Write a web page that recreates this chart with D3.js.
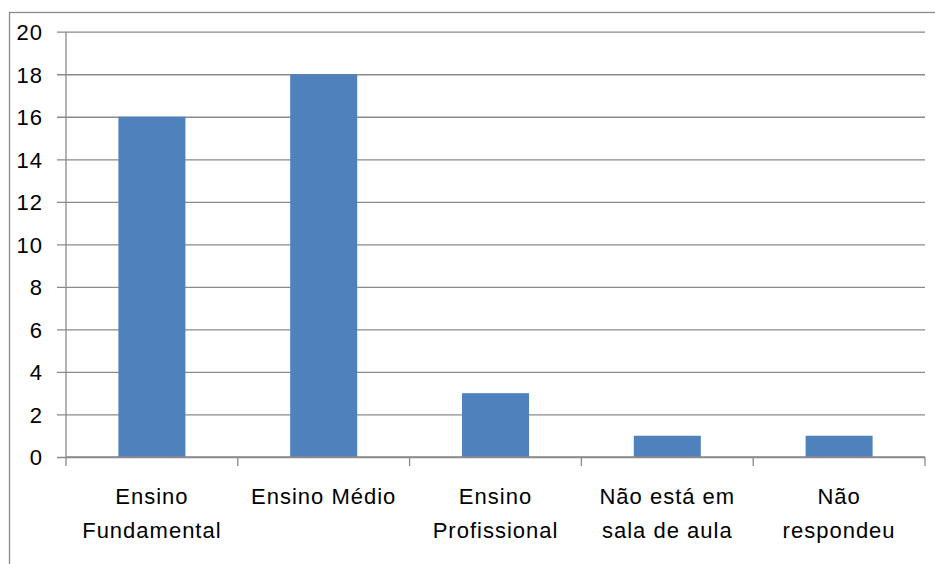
<!DOCTYPE html>
<html>
<head>
<meta charset="utf-8">
<script src="https://cdn.jsdelivr.net/npm/d3@7"></script>
<style>
  html, body { margin: 0; padding: 0; background: #fff; }
  svg { display: block; }
  text { font-family: "Liberation Sans", "DejaVu Sans", sans-serif; fill: #000; }
</style>
</head>
<body>
<svg id="chart" width="935" height="564"></svg>
<script>
// Categories (each split into its display lines) and counts
const categories = [
  ["Ensino", "Fundamental"],
  ["Ensino Médio"],
  ["Ensino", "Profissional"],
  ["Não está em", "sala de aula"],
  ["Não", "respondeu"]
];
const values = [16, 18, 3, 1, 1];
const yTicks = [0, 2, 4, 6, 8, 10, 12, 14, 16, 18, 20];

const svg = d3.select("#chart");
const lineColor = "#8a8a8a";

// Chart-area frame
svg.append("rect")
  .attr("x", 9.5).attr("y", 12.5)
  .attr("width", 940).attr("height", 560)
  .attr("fill", "none")
  .attr("stroke", lineColor)
  .attr("stroke-width", 1.3);

const plot = { left: 66, right: 925, top: 31.7, bottom: 457 };

const keys = categories.map(c => c.join(" "));
const x = d3.scaleBand().domain(keys).range([plot.left, plot.right]).paddingInner(0.61).paddingOuter(0.305);
const band = d3.scaleBand().domain(keys).range([plot.left, plot.right]);
const y = d3.scaleLinear().domain([0, 20]).range([plot.bottom, plot.top]);

// Horizontal gridlines with small left ticks
const yAxis = d3.axisLeft(y).tickValues(yTicks).tickSize(-(plot.right - plot.left)).tickFormat(d => d);
const gy = svg.append("g").attr("transform", `translate(${plot.left},0)`).call(yAxis);
gy.select(".domain").remove();
gy.selectAll(".tick line")
  .attr("x1", -9)
  .attr("stroke", lineColor).attr("stroke-width", 1.3);
gy.selectAll(".tick text")
  .attr("x", -23)
  .attr("dy", "0.36em")
  .style("font-size", "22px")
  .style("letter-spacing", "1px")
  .style("font-family", "'Liberation Sans', sans-serif")
  .attr("fill", "#000");

// Vertical axis line
svg.append("line")
  .attr("x1", plot.left).attr("x2", plot.left)
  .attr("y1", plot.top).attr("y2", plot.bottom)
  .attr("stroke", lineColor).attr("stroke-width", 1.3);

// Bars
svg.append("g").selectAll("rect")
  .data(values)
  .join("rect")
  .attr("x", (d, i) => x(keys[i]))
  .attr("width", x.bandwidth())
  .attr("y", d => y(d))
  .attr("height", d => y(0) - y(d))
  .attr("fill", "#4f81bd");

// X axis baseline and boundary ticks
svg.append("line")
  .attr("x1", plot.left).attr("x2", plot.right)
  .attr("y1", plot.bottom).attr("y2", plot.bottom)
  .attr("stroke", lineColor).attr("stroke-width", 1.3);
const bounds = keys.map(k => band(k)).concat([plot.right]);
svg.append("g").selectAll("line")
  .data(bounds)
  .join("line")
  .attr("x1", d => d).attr("x2", d => d)
  .attr("y1", plot.bottom).attr("y2", plot.bottom + 9)
  .attr("stroke", lineColor).attr("stroke-width", 1.3);

// Category labels
const lab = svg.append("g").selectAll("text")
  .data(categories)
  .join("text")
  .attr("text-anchor", "middle")
  .style("font-size", "22px")
  .style("letter-spacing", "1px")
  .attr("transform", (d, i) => `translate(${band(keys[i]) + band.bandwidth() / 2},0)`);
lab.each(function(lines) {
  const t = d3.select(this);
  lines.forEach((ln, j) => {
    t.append("tspan").attr("x", 0).attr("y", 503.5 + j * 34.5).text(ln);
  });
});
</script>
</body>
</html>
